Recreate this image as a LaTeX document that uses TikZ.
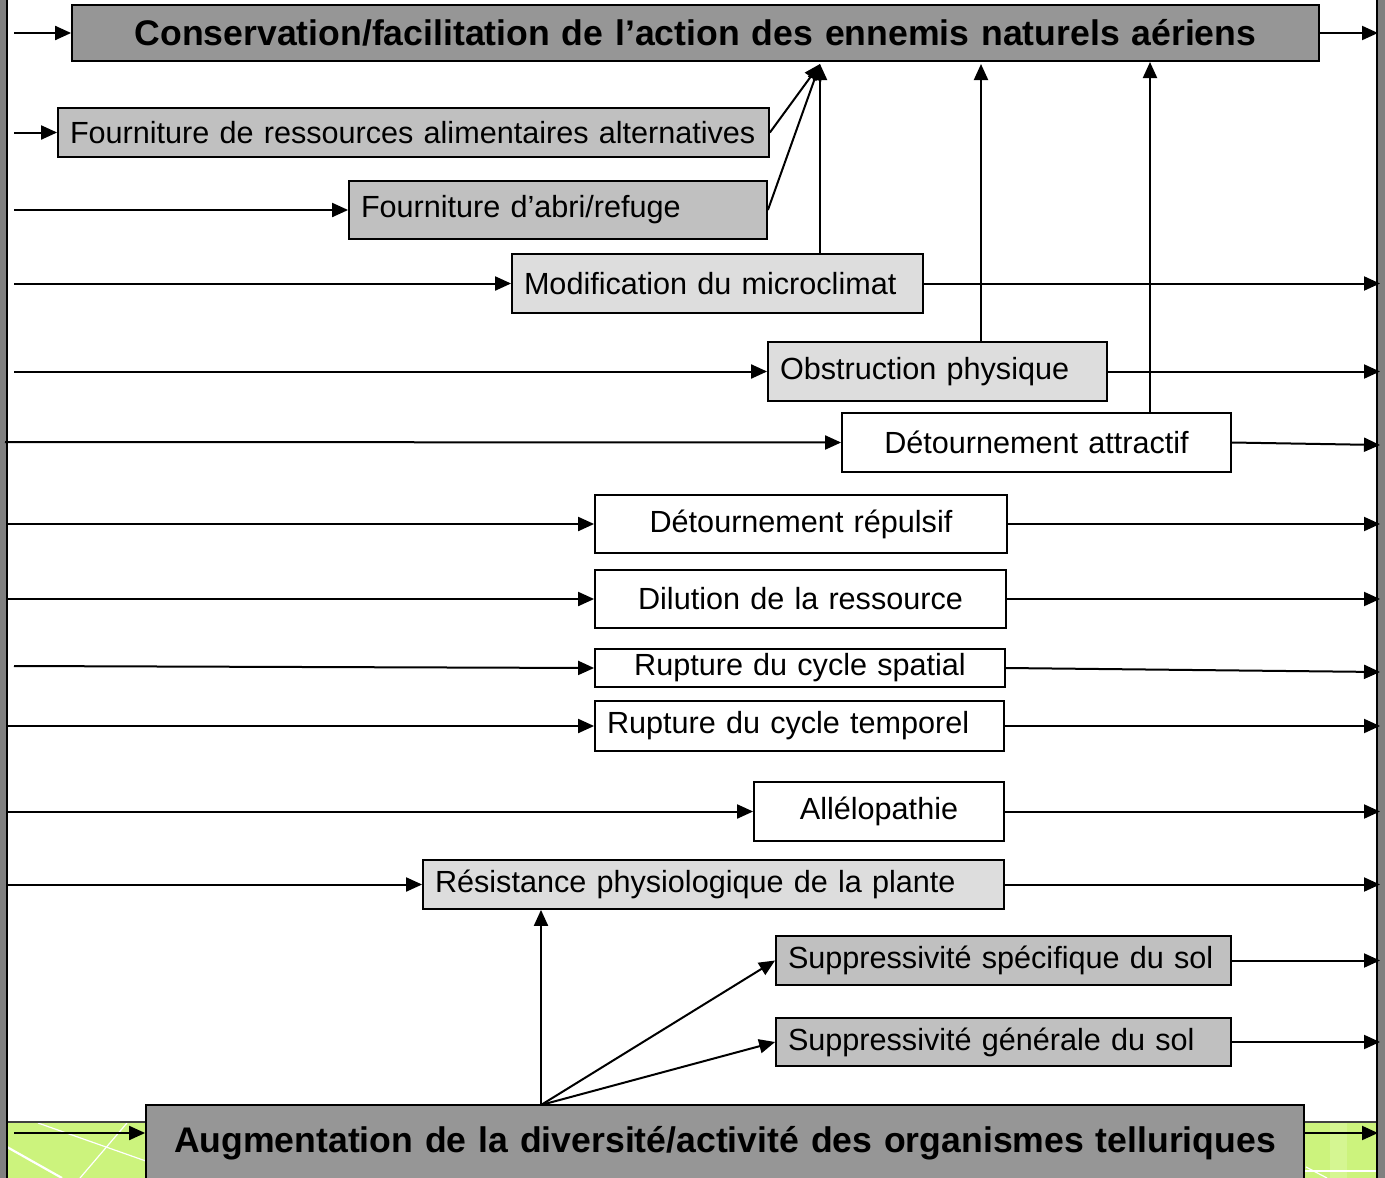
\documentclass[tikz,border=0pt]{standalone}
\usepackage{fontspec}
\setmainfont{Liberation Sans}
\usetikzlibrary{arrows.meta}
\definecolor{gdark}{RGB}{150,150,150}
\definecolor{gmid}{RGB}{192,192,192}
\definecolor{glight}{RGB}{221,221,221}
\definecolor{band}{RGB}{204,243,125}
\definecolor{bandlight}{RGB}{213,246,146}
\definecolor{side}{RGB}{128,128,128}
\tikzset{
  box/.style={draw=black, line width=1.8pt, inner xsep=12pt, inner ysep=0pt,
    font=\fontsize{30.6}{34}\selectfont},
  bigbox/.style={box, fill=gdark, align=center, font=\fontsize{35.6}{40}\selectfont\bfseries},
  lbox/.style={box, align=left},
  cbox/.style={box, align=center},
  arr/.style={-{Triangle[length=16pt,width=14pt]}, line width=2pt},
  wl/.style={white, line width=1.2pt}
}
\newcommand{\bx}[7]{% name, style, fill, cx, cy, W, H ; text after
  \node (#1) [#2, fill=#3, minimum width=#6pt, minimum height=#7pt, text width={(#6-24)*1pt}] at (#4,#5)}
\begin{document}
\begin{tikzpicture}[x=1pt,y=-1pt]
\useasboundingbox (0,0) rectangle (1385,1178);
\clip (0,0) rectangle (1385,1178);
% background band and side borders
\fill[band] (7,1122) rectangle (1377,1178);
\fill[bandlight] (1330,1122) rectangle (1347,1178);
\draw[wl] (38,1123) -- (160,1166);
\draw[wl] (127,1123) -- (80,1178);
\draw[white, line width=2.2pt] (7,1147) -- (62,1178);
\draw[wl] (1306,1167) -- (1327,1178);
\draw[wl] (1300,1171) -- (1377,1171);
\draw[line width=1.5pt, black!75] (7,1122) -- (1377,1122);
\fill[side] (0,0) rectangle (6,1178);
\fill[side] (1378,0) rectangle (1385,1178);
\draw[line width=1.5pt] (7,0) -- (7,1178);
\draw[line width=1.5pt] (1377,0) -- (1377,1178);
% nodes
\bx{title}{bigbox}{gdark}{695.5}{33}{1247}{56} {Conservation/facilitation de l’action des ennemis naturels aériens};
\bx{ress}{lbox}{gmid}{413.5}{132.5}{711}{49} {Fourniture de ressources alimentaires alternatives};
\bx{abri}{lbox}{gmid}{558}{210}{418}{58} {Fourniture d’abri/refuge};
\bx{mod}{lbox}{glight}{717.5}{283.5}{411}{59} {Modification du microclimat};
\bx{obs}{lbox}{glight}{937.5}{371.5}{339}{59} {Obstruction physique};
\bx{datt}{cbox}{white}{1036.5}{442.5}{389}{59} {Détournement attractif};
\bx{drep}{cbox}{white}{801}{524}{412}{58} {Détournement répulsif};
\bx{dil}{cbox}{white}{800.5}{599}{411}{58} {Dilution de la ressource};
\bx{rspa}{cbox}{white}{800}{668}{410}{38} {Rupture du cycle spatial};
\bx{rtem}{lbox}{white}{799.5}{726}{409}{50} {Rupture du cycle temporel};
\bx{alle}{cbox}{white}{879}{811.5}{250}{59} {Allélopathie};
\bx{res}{lbox}{glight}{713.5}{884.5}{581}{49} {Résistance physiologique de la plante};
\bx{sspe}{lbox}{gmid}{1003.5}{960.5}{455}{49} {Suppressivité spécifique du sol};
\bx{sgen}{lbox}{gmid}{1003.5}{1042}{455}{48} {Suppressivité générale du sol};
\bx{aug}{bigbox}{gdark}{725}{1143}{1158}{76} {Augmentation de la diversité/activité des organismes telluriques};
% coordinates
\coordinate (L) at (14,0);
\coordinate (LL) at (8,0);
\coordinate (R) at (1380,0);
\coordinate (tip) at (820,64);
\coordinate (tip2) at (981,64);
\coordinate (tip3) at (1150,62);
\coordinate (bsrc) at (541,1105);
% incoming arrows from left
\draw[arr] (title.west -| L) -- (title.west);
\draw[arr] (ress.west -| L) -- (ress.west);
\draw[arr] (abri.west -| L) -- (abri.west);
\draw[arr] (mod.west -| L) -- (mod.west);
\draw[arr] (obs.west -| L) -- (obs.west);
\draw[arr] (5,442) -- (datt.west);
\draw[arr] (drep.west -| LL) -- (drep.west);
\draw[arr] (dil.west -| LL) -- (dil.west);
\draw[arr] (14,666) -- (rspa.west);
\draw[arr] (rtem.west -| LL) -- (rtem.west);
\draw[arr] (alle.west -| LL) -- (alle.west);
\draw[arr] (res.west -| LL) -- (res.west);
\draw[arr] (14,1133) -- (aug.west |- 0,1133);
% outgoing arrows to right
\draw[arr] (title.east) -- (1378,33);
\draw[arr] (mod.east) -- (mod.east -| R);
\draw[arr] (obs.east) -- (obs.east -| R);
\draw[arr] (datt.east) -- (1380,445);
\draw[arr] (drep.east) -- (drep.east -| R);
\draw[arr] (dil.east) -- (dil.east -| R);
\draw[arr] (rspa.east) -- (1380,672);
\draw[arr] (rtem.east) -- (rtem.east -| R);
\draw[arr] (alle.east) -- (alle.east -| R);
\draw[arr] (res.east) -- (res.east -| R);
\draw[arr] (sspe.east) -- (sspe.east -| R);
\draw[arr] (sgen.east) -- (sgen.east -| R);
\draw[arr] (aug.east |- 0,1133) -- (1378,1133);
% upward arrows to title
\draw[arr] (ress.east) -- (tip);
\draw[arr] (abri.east) -- (tip);
\draw[arr] (mod.north -| tip) -- (tip);
\draw[arr] (obs.north -| tip2) -- (tip2);
\draw[arr] (datt.north -| tip3) -- (tip3);
% from bottom box
\draw[arr] (bsrc) -- (bsrc |- res.south);
\draw[arr] (bsrc) -- (sspe.west);
\draw[arr] (bsrc) -- (sgen.west);
\end{tikzpicture}
\end{document}
